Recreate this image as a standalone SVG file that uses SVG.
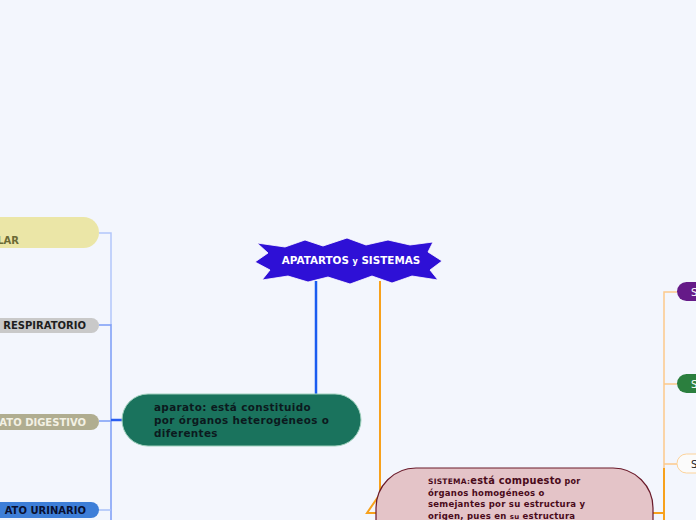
<svg xmlns="http://www.w3.org/2000/svg" width="696" height="520" viewBox="0 0 696 520">
<style>
text{font-family:"DejaVu Sans","Verdana",sans-serif;font-weight:bold}
.c{fill:none}
.ap{font-size:10.4px;letter-spacing:0.35px;fill:#0c1a1e}
.si{font-size:8.5px;letter-spacing:0.25px;fill:#4a0a1a}
</style>
<rect width="696" height="520" fill="#f3f6fd"/>
<g id="connectors">
<path class="c" d="M316,281 V394" stroke="#1a5cf0" stroke-width="2.5"/>
<path class="c" d="M380,281 V494 L367,513 H378" stroke="#f7a11c" stroke-width="2"/>
<path class="c" d="M99,233 H111 V325" stroke="#b3c6fa" stroke-width="1.5"/>
<path class="c" d="M99,325 H111 V520" stroke="#7b9cf6" stroke-width="1.5"/>
<path class="c" d="M99,421 H111" stroke="#7b9cf6" stroke-width="1.5"/>
<path class="c" d="M99,510 H111" stroke="#a9c0f8" stroke-width="1.5"/>
<path class="c" d="M111,420 H122" stroke="#2a5df0" stroke-width="2.5"/>
<path class="c" d="M677,292 H664 V470" stroke="#fdc98a" stroke-width="1.5"/>
<path class="c" d="M664,384 H677 M664,464 H677" stroke="#fdc98a" stroke-width="1.5"/>
<path class="c" d="M664,468 V520 M653,513 H664" stroke="#f7a11c" stroke-width="2"/>
</g>
<g id="central">
<polygon points="255,262 268,253 257,243 285,247 305,240 323,246 347,238 366,245 388,240 410,245 433,242 428,252 442,261 430,270 438,280 412,276 392,283 372,276 350,284 328,277 308,282 288,276 262,280 270,270" fill="#2e10d6" stroke="#ffffff" stroke-width="0.8"/>
<text x="351" y="264" text-anchor="middle" font-size="10.4" fill="#ffffff">APATARTOS <tspan font-size="8">y</tspan> SISTEMAS</text>
</g>
<g id="aparato">
<rect x="122" y="394" width="239" height="52" rx="26" fill="#1a735d" stroke="#9fd0bd" stroke-width="1"/>
<text x="154" y="411" class="ap">aparato: está constituido</text>
<text x="154" y="424" class="ap">por órganos heterogéneos o</text>
<text x="154" y="437" class="ap">diferentes</text>
</g>
<g id="left1">
<rect x="-60" y="217" width="159" height="31" rx="15.5" fill="#ebe6a7"/>
<text x="19" y="244" text-anchor="end" font-size="10" fill="#6b6a35">LAR</text>
</g>
<g id="left2">
<rect x="-60" y="318" width="159" height="15" rx="7.5" fill="#c9c9c9"/>
<text x="86" y="329" text-anchor="end" font-size="10" fill="#1e1e1e">RESPIRATORIO</text>
</g>
<g id="left3">
<rect x="-60" y="414" width="159" height="16" rx="8" fill="#b0ad90"/>
<text x="86" y="426" text-anchor="end" font-size="10" fill="#f3f1e4">ATO DIGESTIVO</text>
</g>
<g id="left4">
<rect x="-60" y="502" width="159" height="16" rx="8" fill="#3d7ed8"/>
<text x="86" y="514" text-anchor="end" font-size="10" fill="#0a1030">ATO URINARIO</text>
</g>
<g id="right1">
<rect x="677" y="282" width="80" height="19" rx="9.5" fill="#651a88"/>
<text x="691" y="296" font-size="10" style="font-weight:normal" fill="#ffffff">S</text>
</g>
<g id="right2">
<rect x="677" y="374" width="80" height="19" rx="9.5" fill="#2b7f3e"/>
<text x="691" y="388" font-size="10" style="font-weight:normal" fill="#ffffff">S</text>
</g>
<g id="right3">
<rect x="677" y="454" width="80" height="19" rx="9.5" fill="#fbfbfb" stroke="#fdd39a" stroke-width="1"/>
<text x="691" y="468" font-size="10" style="font-weight:normal" fill="#222222">S</text>
</g>
<g id="sistema">
<rect x="376" y="468" width="277" height="110" rx="40" fill="#e4c4c8" stroke="#6a1a2a" stroke-width="1.2"/>
<text x="428" y="484" class="si"><tspan font-size="7.5">SISTEMA:</tspan><tspan font-size="9.8">está compuesto</tspan><tspan font-size="8"> por</tspan></text>
<text x="428" y="496" class="si">órganos homogéneos o</text>
<text x="428" y="507" class="si">semejantes por su estructura y</text>
<text x="428" y="519" class="si">origen, pues en <tspan font-size="7">su</tspan> estructura</text>
</g>
</svg>
